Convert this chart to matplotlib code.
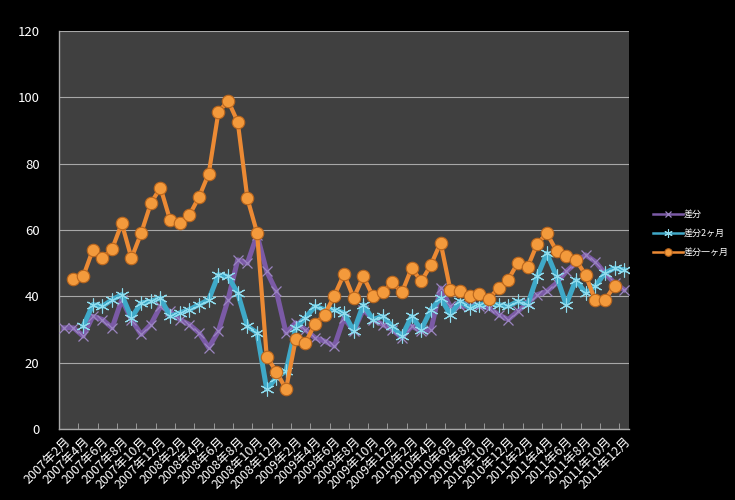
import numpy as np
import matplotlib
matplotlib.use("Agg")
import matplotlib.pyplot as plt

plt.rcParams['font.family'] = ['Noto Sans CJK JP', 'DejaVu Sans']

# 2007年2月 .. 2011年12月 (monthly)
months = [f"{y}年{m}月" for y in range(2007, 2012) for m in range(1, 13)][1:]

nan = np.nan
# 差分
sabun = [30.5, 30.5, 28, 34, 33, 30.5, 39, 33, 28.5, 31.5, 37, 35.5, 33, 31.5, 29,
         24.5, 29.5, 39, 51, 50, 58.5, 47.5, 41.5, 29, 32, 30, 27.5, 26.5, 25, 33.5,
         29.5, 36, 33, 31.5, 30, 27.5, 31, 29.5, 30, 42.5, 37, 37, 37, 37, 36.5,
         34.5, 33, 35.5, 38, 40.5, 41.5, 44, 47.5, 50, 52.5, 50.5, 47, 44, 42]
# 差分2ヶ月
sabun_2m = [nan, nan, 31, 37.5, 37, 39, 40.5, 33.5, 38, 38.5, 39.5, 34, 35, 36, 37.5,
            39, 46.5, 46, 41, 31, 29, 12, 15.5, 17.5, 30.5, 33.5, 37, 36, 36, 35,
            29.5, 37.5, 33, 34, 31, 28, 34, 30, 36, 39.5, 34.5, 38.5, 36.5, 37.5, 38,
            37.5, 37, 38.5, 37.5, 46, 53, 46, 37.5, 45, 41, 43, 47, 48.5, 48]
# 差分一ヶ月
sabun_1m = [nan, 45.2, 46, 54, 51.5, 54.3, 62, 51.5, 59, 68, 72.8, 63, 62, 64.5, 70,
            77, 95.5, 99, 92.6, 69.5, 59.2, 21.8, 17.3, 12, 27, 26, 31.7, 34.5, 40.2, 46.7,
            39.5, 46, 40, 41.2, 44.2, 41.2, 48.5, 44.5, 49.5, 56.2, 42, 41.5, 40.2, 40.6, 39.3,
            42.5, 45, 50.2, 48.8, 55.8, 59, 53.7, 52.2, 51, 46.5, 38.8, 38.8, 43.2, nan]

x = np.arange(len(months))

fig = plt.figure(figsize=(7.35, 5.0), dpi=100, facecolor='black')
ax = fig.add_axes([59/735, 1-429/500, 570/735, 398/500])
ax.set_facecolor('#404040')

ax.plot(x, sabun, color='#7b5aa6', lw=3.6, marker='x', ms=7, mew=0.9,
        mec='#9c86c2', label='差分', zorder=3)
ax.plot(x, sabun_2m, color='#3fa9c8', lw=3.6, marker=(6, 2, 0), ms=10, mew=0.8,
        mec='#8fdcee', label='差分2ヶ月', zorder=4)
ax.plot(x, sabun_1m, color='#ec8a34', lw=3.0, marker='o', ms=9, mew=0.8,
        mfc='#f39a3c', mec='#b8651d', label='差分一ヶ月', zorder=5)

ax.set_xlim(-0.5, len(months) - 0.5)
ax.set_ylim(0, 120)
ax.set_yticks(range(0, 121, 20))
ax.grid(axis='y', color='#a8a8a8', lw=0.8)
ax.set_axisbelow(True)

ax.set_xticks(x[::2])
ax.set_xticklabels(months[::2], rotation=45, ha='right', va='top',
                   rotation_mode='anchor', fontsize=9, color='white')
ax.set_xticks(np.arange(-0.5, len(months), 2), minor=True)
ax.tick_params(axis='x', which='major', length=0, pad=4)
ax.tick_params(axis='x', which='minor', direction='in', length=4, color='#a8a8a8')
ax.tick_params(axis='y', length=0, pad=14, labelsize=9.5, labelcolor='white')

for s in ['top', 'right']:
    ax.spines[s].set_visible(False)
for s in ['left', 'bottom']:
    ax.spines[s].set_color('#a8a8a8')
    ax.spines[s].set_linewidth(1.0)

leg = fig.legend(loc='upper left', bbox_to_anchor=(645/735, 1-202/500),
                 frameon=False, fontsize=6.5, labelcolor='white',
                 handlelength=3.3, handletextpad=0.1, labelspacing=1.1,
                 markerscale=0.6)
for h in leg.legend_handles:
    h.set_linewidth(1.8)

fig.savefig('out.png', dpi=100, facecolor='black')
